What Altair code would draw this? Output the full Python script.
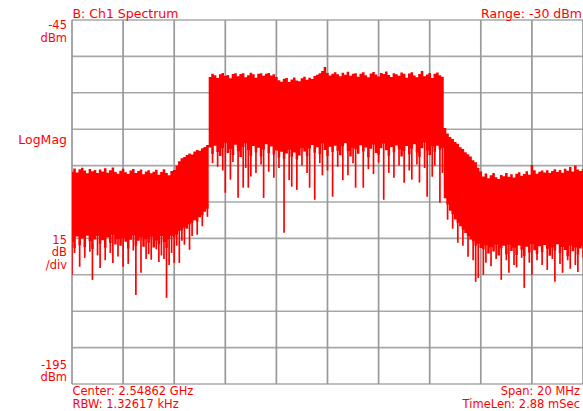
import altair as alt
import pandas as pd

# ---- trace: upper envelope of the red trace per 0.1 MHz bin (dBm) ----
top_dbm = (
    # left noise floor
    [-107.5, -106.2, -107.8, -106.5, -105.9, -107.0, -108.2, -106.4, -107.3, -106.8,
     -108.0, -106.6, -107.4, -106.1, -107.9, -106.9, -105.8, -107.6, -108.4, -107.1,
     -106.3, -107.7, -108.5, -107.0, -106.4, -108.1, -107.2, -106.6, -108.6, -107.4,
     -106.9, -108.2, -107.5, -106.7, -108.8, -107.6, -106.5, -108.0, -109.0, -107.2,
     -106.8]
    # rising shoulder
    + [-105.0, -103.2, -102.0, -101.5, -100.6, -100.0, -100.4, -99.2, -98.6, -98.9,
       -97.8, -97.3, -96.5]
    # channel plateau
    + [-68.5, -67.2, -67.8, -68.9, -67.4, -66.8, -68.0, -67.7, -69.0, -67.3,
       -66.9, -68.2, -67.3, -66.9, -68.6, -67.8, -66.7, -67.4, -68.8, -67.1,
       -66.9, -68.0, -67.2, -66.8, -67.9, -67.4, -68.5,
       -69.8, -70.4, -69.2, -68.9, -70.6, -69.5, -68.7, -69.9, -70.2, -69.0,
       -68.4, -69.6, -68.8, -69.3, -68.1,
       -67.6, -66.9, -66.0, -64.4, -66.8, -67.9, -67.2, -66.5,
       -67.4, -68.2, -66.7, -67.6, -66.3, -68.0, -67.1, -66.9, -68.4, -67.2,
       -66.5, -67.8, -68.6, -67.0, -66.4, -67.5, -68.3, -66.8, -67.3, -66.2,
       -67.7, -68.5, -66.9, -67.4, -68.0, -66.6, -67.2, -68.8, -67.0, -66.5,
       -67.9, -68.6, -67.3, -66.0, -68.2, -67.5, -66.8, -68.9, -67.1, -66.6,
       -67.8, -68.4]
    # falling shoulder
    + [-89.5, -91.8, -93.2, -94.0, -95.3, -96.0, -97.4, -98.2, -99.5, -100.3,
       -101.2, -102.8, -103.6, -105.9, -107.4]
    # right noise floor
    + [-109.5, -108.3, -110.2, -109.0, -108.1, -109.8, -110.5, -108.9, -109.4, -108.0,
       -109.6, -108.6, -109.9, -108.4, -107.7, -109.2, -108.5, -107.3, -108.8, -104.8,
       -106.9, -108.4, -107.5, -107.0, -107.8, -106.9, -108.0, -107.2, -106.5, -107.6,
       -106.8, -107.9, -106.3, -107.1, -105.6, -107.4, -105.0, -106.6, -107.2, -106.4]
)

# ---- lower edge of the solid body per bin (dBm) ----
bottom_dbm = (
    [-136.5, -139.0, -134.2, -137.8, -135.0, -138.6, -133.9, -136.2, -139.4, -135.5,
     -134.0, -137.2, -135.8, -138.9, -134.6, -136.9, -133.5, -137.5, -135.2, -138.0,
     -134.8, -136.4, -139.2, -135.6, -133.8, -137.9, -136.0, -134.5, -138.4, -135.1,
     -136.8, -134.3, -138.7, -135.9, -137.4, -134.0, -136.5, -139.0, -135.4, -133.9,
     -134.5]
    + [-133.5, -132.0, -131.4, -130.5, -131.0, -129.2, -128.6, -127.5, -128.0, -126.3,
       -125.5, -124.0, -122.8]
    + [-97.5, -100.2, -96.8, -99.4, -101.0, -97.9, -95.6, -99.8, -98.2, -100.6,
       -96.4, -99.1, -101.5, -97.3, -95.8, -98.7, -100.9, -96.9, -99.5, -97.6,
       -101.2, -98.4, -96.2, -99.9, -97.1, -100.4, -98.8, -101.7, -99.3, -102.2,
       -100.0, -98.5, -101.4, -99.6, -102.5, -100.8, -97.8, -99.2, -101.1, -98.0,
       -96.5, -99.7, -97.4, -100.3, -95.9, -98.6, -101.0, -97.2, -99.4, -96.8,
       -98.9, -100.7, -97.0, -95.7, -99.0, -101.3, -97.6, -98.3, -100.1, -96.6,
       -99.2, -97.5, -101.6, -98.1, -96.3, -99.8, -100.5, -97.8, -95.9, -98.7,
       -100.9, -97.3, -99.5, -96.7, -98.4, -101.2, -99.0, -96.9, -100.3, -98.0,
       -96.2, -99.6, -101.4, -97.9, -95.5, -98.8, -100.6, -97.1, -99.3, -96.8,
       -98.5, -97.6]
    + [-118.5, -121.0, -123.6, -125.0, -127.2, -128.5, -130.0, -131.4, -132.8, -134.0,
       -135.5, -136.2, -138.0, -137.2, -139.0]
    + [-139.5, -137.8, -141.2, -138.6, -140.4, -137.5, -142.0, -139.1, -138.0, -141.5,
       -137.6, -140.2, -138.9, -141.8, -137.9, -139.7, -142.3, -138.4, -140.8, -137.3,
       -139.9, -141.4, -138.2, -140.6, -137.7, -139.3, -142.1, -138.7, -140.0, -137.4,
       -141.0, -138.5, -139.8, -142.4, -137.9, -140.3, -138.8, -141.6, -139.2, -138.1]
)

# frequency offset of each bin from the centre (MHz), 0.1 MHz bins over the 20 MHz span
freq_mhz = [round(-10 + i / 10, 1) for i in range(len(top_dbm))]

# ---- downward spikes: bin index and depth (dBm) ----
spike_bin = [0, 3, 5, 8, 11, 13, 16, 18, 20, 22, 25, 27, 29, 31, 34, 35, 37, 38, 40,
             1, 7, 10, 15, 24, 30, 33, 36, 39,
             42, 44, 46, 49, 53, 41, 43, 47, 51,
             57, 60, 62, 65, 67, 69, 72, 75, 79, 83, 86, 88, 93, 95, 98, 102, 106,
             111, 114, 118, 122, 126, 130, 133, 136, 139, 141, 144,
             55, 59, 63, 68, 70, 74, 77, 81, 85, 90, 92, 97, 100, 104, 108, 110,
             116, 120, 124, 128, 132, 135, 138, 142, 145,
             147, 151, 155, 149, 153, 157,
             158, 159, 161, 164, 168, 171, 174, 177, 180, 184, 186, 189, 192, 195, 198,
             162, 166, 170, 173, 176, 179, 182, 188, 191, 194, 197, 200]
spike_dbm = [-150.0, -146.7, -143.0, -152.1, -147.2, -144.0, -145.1, -142.5, -146.7, -145.5,
             -158.3, -149.2, -143.5, -143.8, -144.7, -142.0, -159.5, -146.0, -145.1,
             -141.0, -140.5, -142.0, -141.0, -140.0, -141.5, -139.5, -143.5, -141.0,
             -145.1, -137.6, -139.7, -133.5, -126.1, -138.0, -136.0, -134.0, -130.0,
             -105.5, -116.2, -110.8, -118.3, -114.1, -114.1, -108.0, -118.3, -110.0, -132.7,
             -113.7, -115.0, -114.1, -119.1, -109.0, -117.8, -111.0,
             -114.1, -114.1, -108.5, -119.1, -110.0, -112.1, -110.8, -112.0, -117.8, -109.6,
             -120.3,
             -104.0, -107.0, -103.5, -106.0, -109.5, -104.5, -107.5, -106.0, -111.0, -105.0,
             -108.0, -104.0, -107.0, -105.5, -109.0, -104.0,
             -106.5, -103.8, -108.0, -105.0, -107.0, -104.5, -106.0, -105.0, -108.0,
             -127.3, -136.8, -142.6, -131.0, -138.0, -144.0,
             -152.9, -151.3, -150.0, -146.5, -152.1, -149.2, -147.0, -155.4, -150.0, -146.0,
             -148.0, -152.9, -149.2, -147.5, -148.8,
             -145.0, -143.5, -144.0, -146.0, -143.0, -145.0, -144.0, -143.5, -145.5, -144.0,
             -146.0, -143.0]

# graticule: 10 divisions each way (2 MHz/div, 15 dB/div)
x_grid = [-10, -8, -6, -4, -2, 0, 2, 4, 6, 8, 10]
y_grid = [-195, -180, -165, -150, -135, -120, -105, -90, -75, -60, -45]

title_left = "B: Ch1 Spectrum"
title_right = "Range: -30 dBm"
top_ref = ["-45", "dBm"]
mid_label = ["LogMag"]
scale_label = ["15", "dB", "/div"]
bottom_ref = ["-195", "dBm"]
info_left = ["Center: 2.54862 GHz", "RBW: 1.32617 kHz"]
info_right = ["Span: 20 MHz", "TimeLen: 2.88 mSec"]

RED = "#ff0000"
VGRID = "#999999"
HGRID = "#a8a8a8"
FONT = "DejaVu Sans"
FS = 11.5
FS_BIG = 12.5
W, H = 511, 364

trace = pd.DataFrame({"f": freq_mhz, "top": top_dbm, "bot": bottom_dbm})
spikes = pd.DataFrame({
    "f": [freq_mhz[b] for b in spike_bin],
    "lo": spike_dbm,
    "hi": [bottom_dbm[b] + 2 for b in spike_bin],
})

xs = alt.Scale(domain=[-10, 10], nice=False, zero=False)
ys = alt.Scale(domain=[-195, -45], nice=False, zero=False)

vgrid = alt.Chart(pd.DataFrame({"g": x_grid})).mark_rule(
    color=VGRID, strokeWidth=1.7
).encode(
    x=alt.X("g:Q", scale=xs, axis=None),
    y=alt.value(0),
    y2=alt.value(H),
)
hgrid = alt.Chart(pd.DataFrame({"g": y_grid})).mark_rule(
    color=HGRID, strokeWidth=1.6
).encode(
    y=alt.Y("g:Q", scale=ys, axis=None),
    x=alt.value(0),
    x2=alt.value(W),
)

body = alt.Chart(trace).mark_area(interpolate="step", color=RED, opacity=1, clip=True).encode(
    x=alt.X("f:Q", scale=xs, axis=None),
    y=alt.Y("top:Q", scale=ys, axis=None),
    y2="bot:Q",
)

spike_layer = alt.Chart(spikes).mark_rule(color=RED, strokeWidth=1.7, clip=True).encode(
    x=alt.X("f:Q", scale=xs, axis=None),
    y=alt.Y("lo:Q", scale=ys, axis=None),
    y2="hi:Q",
)


def label(lines, x, y, align, step=12.5, size=FS):
    df = pd.DataFrame({"t": lines, "k": list(range(len(lines)))})
    return alt.Chart(df).mark_text(
        align=align, baseline="alphabetic", font=FONT, fontSize=size, color=RED
    ).transform_calculate(
        yy=f"{y} + datum.k * {step}"
    ).encode(
        text="t:N",
        x=alt.value(x),
        y=alt.Y("yy:Q", scale=None, axis=None),
    )


layers = [
    hgrid,
    vgrid,
    body,
    spike_layer,
    label([title_left], 0.5, -2.5, "left", size=FS_BIG),
    label([title_right], 510, -2.5, "right", size=FS_BIG),
    label(top_ref, -5, 9.3, "right"),
    label(mid_label, -5, 124, "right", size=FS_BIG),
    label(scale_label, -5, 223.5, "right", step=12.8),
    label(bottom_ref, -5, 348.5, "right", step=12.8),
    label(info_left, 0.5, 374.5, "left", step=13),
    label(info_right, 508, 374.5, "right", step=13),
]

chart = alt.layer(*layers).properties(
    width=W,
    height=H,
    autosize=alt.AutoSizeParams(type="none"),
    padding={"left": 72, "top": 20, "right": 0, "bottom": 27},
    background="white",
).configure_view(stroke=None)

chart.save("out.html", embed_options={"renderer": "svg", "actions": False})
